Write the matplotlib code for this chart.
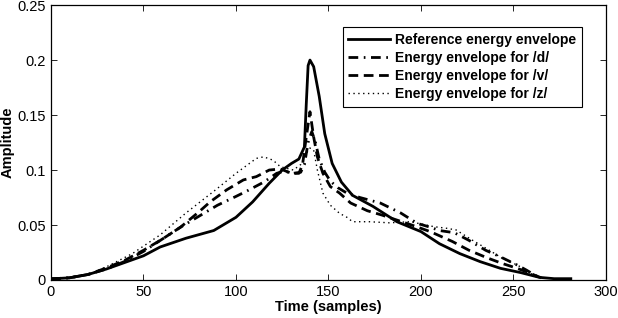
import numpy as np
import matplotlib
matplotlib.use("Agg")
import matplotlib.pyplot as plt

# reference envelope (solid)
ref_x = [0, 10, 20, 30, 40, 50, 59, 73, 88, 100, 109, 118, 125, 130, 134, 137, 138, 139, 140,
         142, 145, 148, 152, 157, 163, 174, 187, 200, 210, 221, 232, 243, 254, 264, 272, 281]
ref_y = [0.001, 0.002, 0.005, 0.010, 0.016, 0.022, 0.030, 0.038, 0.045, 0.057, 0.071, 0.088,
         0.100, 0.106, 0.110, 0.121, 0.160, 0.195, 0.200, 0.194, 0.167, 0.133, 0.106, 0.089,
         0.077, 0.067, 0.053, 0.044, 0.033, 0.024, 0.0167, 0.0106, 0.0067, 0.0024, 0.0012, 0.0012]

# /d/ (dash-dot)
d_x = [0, 10, 20, 30, 40, 50, 60, 70, 80, 90, 100, 106, 115, 122, 126, 131, 135, 137, 139, 141,
       143, 145, 148, 151, 155, 160, 167, 178, 189, 198, 205, 210, 218, 226, 235, 243, 252, 257,
       262, 265]
d_y = [0.001, 0.002, 0.005, 0.010, 0.017, 0.026, 0.037, 0.048, 0.058, 0.068, 0.076, 0.081, 0.089,
       0.097, 0.099, 0.097, 0.098, 0.105, 0.125, 0.135, 0.125, 0.110, 0.098, 0.090, 0.084, 0.079,
       0.075, 0.070, 0.061, 0.0515, 0.048, 0.045, 0.043, 0.036, 0.027, 0.021, 0.0136, 0.009,
       0.004, 0.002]

# /v/ (dashed)
v_x = [0, 10, 20, 30, 40, 50, 60, 70, 75, 80, 86, 95, 104, 111, 118, 124, 130, 134, 136, 138,
       140, 142, 144, 147, 151, 156, 162, 171, 179, 187, 195, 205, 217, 226, 236, 244, 252, 257,
       262, 265]
v_y = [0.001, 0.002, 0.005, 0.011, 0.018, 0.027, 0.037, 0.048, 0.055, 0.062, 0.071, 0.082, 0.091,
       0.094, 0.100, 0.101, 0.097, 0.097, 0.105, 0.130, 0.153, 0.130, 0.112, 0.097, 0.085, 0.079,
       0.070, 0.063, 0.059, 0.0545, 0.050, 0.044, 0.035, 0.027, 0.020, 0.015, 0.0106, 0.0075,
       0.004, 0.002]

# /z/ (dotted)
z_x = [0, 10, 20, 30, 44, 59, 73, 89, 100, 111, 115, 120, 124, 131, 135, 138, 140, 142, 144,
       147, 151, 156, 160, 163, 172, 183, 194, 200, 207, 214, 219, 228, 237, 244, 252, 257, 262]
z_y = [0.001, 0.002, 0.005, 0.012, 0.024, 0.041, 0.061, 0.082, 0.097, 0.1106, 0.112, 0.109, 0.103,
       0.100, 0.105, 0.115, 0.120, 0.118, 0.100, 0.079, 0.068, 0.0606, 0.057, 0.053, 0.053, 0.052,
       0.053, 0.051, 0.0485, 0.047, 0.0455, 0.036, 0.027, 0.0197, 0.0136, 0.009, 0.003]

labels = ['Reference energy envelope', 'Energy envelope for /d/',
          'Energy envelope for /v/', 'Energy envelope for /z/']

plt.rcParams['font.family'] = ['Liberation Sans', 'DejaVu Sans']

fig = plt.figure(figsize=(6.18, 3.18), dpi=100)
ax = fig.add_axes([0.0825, 0.1195, 0.898, 0.8645])

ax.plot(ref_x, ref_y, color='black', lw=2.0, ls='-', label=labels[0])
ax.plot(d_x, d_y, color='black', lw=2.0, ls=(0, (3.5, 2, 0.6, 2)), label=labels[1])
ax.plot(v_x, v_y, color='black', lw=2.0, ls=(0, (3.5, 2)), label=labels[2])
ax.plot(z_x, z_y, color='black', lw=1.0, ls=(0, (1, 2.5)), label=labels[3])

ax.set_xlim(0, 300)
ax.set_ylim(0, 0.25)
ax.set_xticks([0, 50, 100, 150, 200, 250, 300])
ax.set_yticks([0, 0.05, 0.1, 0.15, 0.2, 0.25])
ax.set_yticklabels(['0', '0.05', '0.1', '0.15', '0.2', '0.25'])
ax.tick_params(direction='in', top=True, right=True, labelsize=10.5, length=4, width=0.6)
for s in ax.spines.values():
    s.set_linewidth(0.9)

ax.set_xlabel('Time (samples)', fontsize=10.5, fontweight='bold', labelpad=1)
ax.set_ylabel('Amplitude', fontsize=10.5, fontweight='bold', labelpad=2)

leg = ax.legend(loc='upper right', bbox_to_anchor=(0.957, 0.92), borderaxespad=0,
                fancybox=False, edgecolor='black', framealpha=1, handlelength=3.0,
                prop={'weight': 'bold', 'size': 10}, borderpad=0.4,
                labelspacing=0.3, handletextpad=0.4)
leg.get_frame().set_linewidth(0.8)

fig.savefig('out.png', dpi=100)
